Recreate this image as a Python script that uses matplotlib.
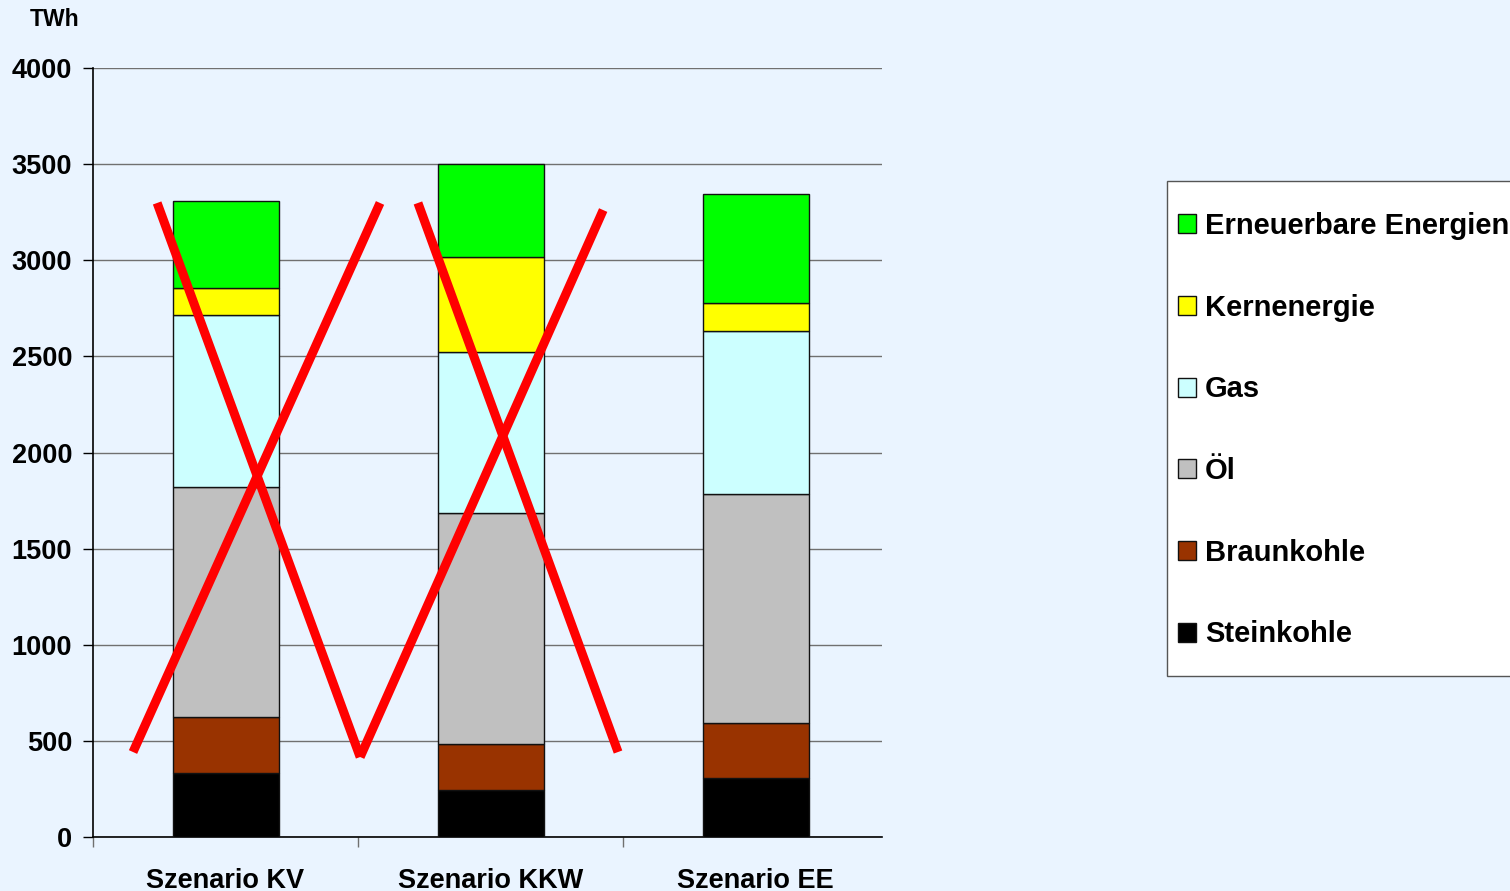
import matplotlib.pyplot as plt
from matplotlib.patches import Rectangle
import numpy as np

# data (TWh)
categories = ['Szenario KV', 'Szenario KKW', 'Szenario EE']
steinkohle = [333, 244, 307]
braunkohle = [291, 240, 286]
oel = [1196, 1201, 1191]
gas = [895, 838, 848]
kernenergie = [141, 494, 146]
erneuerbare = [452, 484, 567]

series_names = ['Steinkohle', 'Braunkohle', 'Öl', 'Gas', 'Kernenergie', 'Erneuerbare Energien']
series_values = [steinkohle, braunkohle, oel, gas, kernenergie, erneuerbare]
series_colors = ['#000000', '#993300', '#C0C0C0', '#CCFFFF', '#FFFF00', '#00FF00']

y_ticks = [0, 500, 1000, 1500, 2000, 2500, 3000, 3500, 4000]

# red strike-through lines (x in category units, y in TWh)
cross_x = [[-0.349, 0.583], [-0.258, 0.508], [0.508, 1.425], [0.726, 1.481]]
cross_y = [[442, 3298], [3298, 416], [416, 3261], [3298, 442]]

bg = '#EAF4FF'
tick_font = ['Liberation Sans Narrow', 'Liberation Sans', 'DejaVu Sans']
W, H = 1510, 891

fig = plt.figure(figsize=(15.1, 8.91), dpi=100, facecolor=bg)
ax = fig.add_axes([93 / W, 54 / H, (882 - 93) / W, (837 - 68) / H])
ax.set_facecolor(bg)

x = np.arange(len(categories))
bottom = np.zeros(len(categories))
handles = []
for name, vals, col in zip(series_names, series_values, series_colors):
    b = ax.bar(x, vals, 0.4, bottom=bottom, color=col, edgecolor='#111111',
               linewidth=1.0, label=name, zorder=3)
    handles.append(b)
    bottom += np.array(vals)

ax.set_ylim(0, 4000)
ax.set_xlim(-0.5, 2.477)
ax.set_yticks(y_ticks)
ax.set_yticklabels([str(t) for t in y_ticks], fontsize=19.5, fontweight='bold', family=tick_font)
ax.yaxis.grid(True, color='#707070', linewidth=1.0, zorder=0)
ax.tick_params(axis='y', length=7, width=1, pad=8)

ax.set_xticks(x)
ax.set_xticklabels(categories, fontsize=19.5, fontweight='bold', family=tick_font)
ax.set_xticks([-0.5, 0.5, 1.5], minor=True)
ax.tick_params(axis='x', which='major', length=0, pad=22)
ax.tick_params(axis='x', which='minor', length=7, width=1, color='#707070')

for s in ['top', 'right']:
    ax.spines[s].set_visible(False)
ax.spines['left'].set_linewidth(1.2)
ax.spines['bottom'].set_linewidth(1.2)

for xs, ys in zip(cross_x, cross_y):
    ax.plot(xs, ys, color='#FF0000', linewidth=6.5, solid_capstyle='butt',
            zorder=5, clip_on=False)

fig.text(30 / W, 1 - 19 / H, 'TWh', fontsize=16.5, fontweight='bold',
         family=tick_font, va='center', ha='left')

# legend box
fig.patches.append(Rectangle((1167 / W, 1 - 676 / H), (1520 - 1167) / W, (676 - 181) / H,
                             transform=fig.transFigure, facecolor='white',
                             edgecolor='#555555', linewidth=1.0, zorder=1))

leg = fig.legend(handles[::-1], series_names[::-1], loc='upper left',
                 bbox_to_anchor=(1178 / W, 1 - 212 / H), borderaxespad=0,
                 prop={'family': 'Liberation Sans', 'weight': 'bold', 'size': 21},
                 frameon=False, labelspacing=1.84,
                 handlelength=0.62, handleheight=0.62, handletextpad=0.3,
                 borderpad=0)

fig.savefig('out.png', dpi=100, facecolor=bg)
